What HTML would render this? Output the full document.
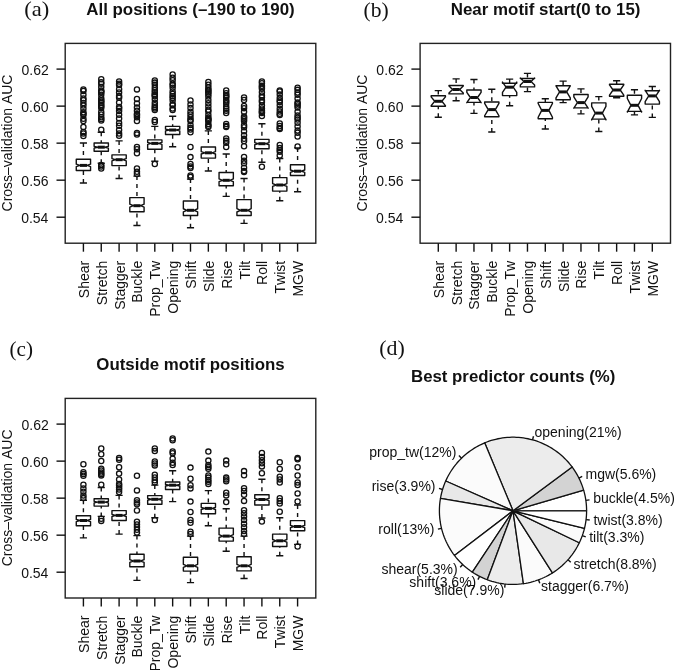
<!DOCTYPE html><html><head><meta charset="utf-8"><style>
*{margin:0;padding:0}
html,body{width:675px;height:670px;background:#fff;overflow:hidden}
svg{display:block;filter:grayscale(1)}
text{font-family:"Liberation Sans",sans-serif;fill:#111;font-kerning:none}
.tk{font-size:14px}
.yl{font-size:13.5px}
.pt{font-size:14px}
.ti{font-size:16.8px;font-weight:bold}
.pn{font-family:"Liberation Serif",serif;font-size:21.5px}
.ln{stroke:#111;stroke-width:1.4;fill:none}
.wh{stroke:#111;stroke-width:1.4;fill:none;stroke-dasharray:4 4}
.bx{stroke:#111;stroke-width:1.4;fill:#fff;stroke-linejoin:round}
.md{stroke:#111;stroke-width:3;fill:none}
.fr{stroke:#222;stroke-width:1.4;fill:none}
.pl{stroke:#111;stroke-width:1.3;stroke-linejoin:round}
circle{fill:none;stroke:#111;stroke-width:1.3}
</style></head><body><svg width="675" height="670" viewBox="0 0 675 670">
<rect width="675" height="670" fill="#fff"/>
<rect x="65.2" y="43.4" width="250.6" height="199.8" class="fr"/>
<path d="M56.5 217.2H65.2" class="ln"/>
<text x="21.16" y="222.8" class="tk">0.54</text>
<path d="M56.5 180.17H65.2" class="ln"/>
<text x="21.37" y="185.77" class="tk">0.56</text>
<path d="M56.5 143.15H65.2" class="ln"/>
<text x="21.36" y="148.75" class="tk">0.58</text>
<path d="M56.5 106.13H65.2" class="ln"/>
<text x="21.3" y="111.73" class="tk">0.60</text>
<path d="M56.5 69.1H65.2" class="ln"/>
<text x="21.46" y="74.7" class="tk">0.62</text>
<path d="M83.41 243.2V251.7" class="ln"/>
<text transform="translate(88.91,298.16) rotate(-90)" class="tk">Shear</text>
<path d="M101.25 243.2V251.7" class="ln"/>
<text transform="translate(106.75,305.15) rotate(-90)" class="tk">Stretch</text>
<path d="M119.1 243.2V251.7" class="ln"/>
<text transform="translate(124.6,309.83) rotate(-90)" class="tk">Stagger</text>
<path d="M136.95 243.2V251.7" class="ln"/>
<text transform="translate(142.45,302.82) rotate(-90)" class="tk">Buckle</text>
<path d="M154.8 243.2V251.7" class="ln"/>
<text transform="translate(160.3,316.82) rotate(-90)" class="tk">Prop_Tw</text>
<path d="M172.65 243.2V251.7" class="ln"/>
<text transform="translate(178.15,313.73) rotate(-90)" class="tk">Opening</text>
<path d="M190.5 243.2V251.7" class="ln"/>
<text transform="translate(196,288.81) rotate(-90)" class="tk">Shift</text>
<path d="M208.35 243.2V251.7" class="ln"/>
<text transform="translate(213.85,291.93) rotate(-90)" class="tk">Slide</text>
<path d="M226.2 243.2V251.7" class="ln"/>
<text transform="translate(231.7,288.81) rotate(-90)" class="tk">Rise</text>
<path d="M244.05 243.2V251.7" class="ln"/>
<text transform="translate(249.55,279.46) rotate(-90)" class="tk">Tilt</text>
<path d="M261.9 243.2V251.7" class="ln"/>
<text transform="translate(267.4,284.92) rotate(-90)" class="tk">Roll</text>
<path d="M279.75 243.2V251.7" class="ln"/>
<text transform="translate(285.25,293.46) rotate(-90)" class="tk">Twist</text>
<path d="M297.59 243.2V251.7" class="ln"/>
<text transform="translate(303.09,296.57) rotate(-90)" class="tk">MGW</text>
<text transform="translate(12,211.47) rotate(-90)" class="tk">Cross–validation AUC</text>
<path d="M83.41 183V170.5M83.41 143V159.2" class="wh"/>
<path d="M79.84 183H86.98M79.84 143H86.98" class="ln"/>
<polygon points="76.27,170.5 90.55,170.5 90.55,166.61 86.98,165.4 90.55,164.19 90.55,159.2 76.27,159.2 76.27,164.19 79.84,165.4 76.27,166.61" class="bx"/>
<path d="M79.84 165.4H86.98" class="md"/>
<circle cx="83.41" cy="89.5" r="2.6"/>
<circle cx="83.41" cy="91.02" r="2.6"/>
<circle cx="83.41" cy="94.84" r="2.6"/>
<circle cx="83.41" cy="98.4" r="2.6"/>
<circle cx="83.41" cy="100.3" r="2.6"/>
<circle cx="83.41" cy="102.99" r="2.6"/>
<circle cx="83.41" cy="105.52" r="2.6"/>
<circle cx="83.41" cy="108.71" r="2.6"/>
<circle cx="83.41" cy="112.35" r="2.6"/>
<circle cx="83.41" cy="113.73" r="2.6"/>
<circle cx="83.41" cy="114.91" r="2.6"/>
<circle cx="83.41" cy="118.69" r="2.6"/>
<circle cx="83.41" cy="121" r="2.6"/>
<circle cx="83.41" cy="127" r="2.6"/>
<circle cx="83.41" cy="131.93" r="2.6"/>
<circle cx="83.41" cy="133.44" r="2.6"/>
<circle cx="83.41" cy="136" r="2.6"/>
<path d="M101.25 163.3V151.3M101.25 132.3V143" class="wh"/>
<path d="M97.69 163.3H104.82M97.69 132.3H104.82" class="ln"/>
<polygon points="94.12,151.3 108.39,151.3 108.39,148.09 104.82,147.2 108.39,146.31 108.39,143 94.12,143 94.12,146.31 97.69,147.2 94.12,148.09" class="bx"/>
<path d="M97.69 147.2H104.82" class="md"/>
<circle cx="101.25" cy="79.3" r="2.6"/>
<circle cx="101.25" cy="82.15" r="2.6"/>
<circle cx="101.25" cy="83.67" r="2.6"/>
<circle cx="101.25" cy="87.12" r="2.6"/>
<circle cx="101.25" cy="90.45" r="2.6"/>
<circle cx="101.25" cy="91.43" r="2.6"/>
<circle cx="101.25" cy="92.4" r="2.6"/>
<circle cx="101.25" cy="94.77" r="2.6"/>
<circle cx="101.25" cy="98.2" r="2.6"/>
<circle cx="101.25" cy="100.13" r="2.6"/>
<circle cx="101.25" cy="101.61" r="2.6"/>
<circle cx="101.25" cy="103" r="2.6"/>
<circle cx="101.25" cy="105" r="2.6"/>
<circle cx="101.25" cy="106.3" r="2.6"/>
<circle cx="101.25" cy="108" r="2.6"/>
<circle cx="101.25" cy="112" r="2.6"/>
<circle cx="101.25" cy="114.5" r="2.6"/>
<circle cx="101.25" cy="117.19" r="2.6"/>
<circle cx="101.25" cy="119.02" r="2.6"/>
<circle cx="101.25" cy="120.5" r="2.6"/>
<circle cx="101.25" cy="129.8" r="2.6"/>
<circle cx="101.25" cy="165" r="2.6"/>
<circle cx="101.25" cy="166.49" r="2.6"/>
<circle cx="101.25" cy="168.5" r="2.6"/>
<path d="M119.1 178.5V165.6M119.1 140.9V154.9" class="wh"/>
<path d="M115.53 178.5H122.67M115.53 140.9H122.67" class="ln"/>
<polygon points="111.96,165.6 126.24,165.6 126.24,160.84 122.67,159.7 126.24,158.56 126.24,154.9 111.96,154.9 111.96,158.56 115.53,159.7 111.96,160.84" class="bx"/>
<path d="M115.53 159.7H122.67" class="md"/>
<circle cx="119.1" cy="81.5" r="2.6"/>
<circle cx="119.1" cy="83.74" r="2.6"/>
<circle cx="119.1" cy="85.02" r="2.6"/>
<circle cx="119.1" cy="89.24" r="2.6"/>
<circle cx="119.1" cy="92.44" r="2.6"/>
<circle cx="119.1" cy="95.95" r="2.6"/>
<circle cx="119.1" cy="97.82" r="2.6"/>
<circle cx="119.1" cy="102.59" r="2.6"/>
<circle cx="119.1" cy="106.89" r="2.6"/>
<circle cx="119.1" cy="108.52" r="2.6"/>
<circle cx="119.1" cy="110.92" r="2.6"/>
<circle cx="119.1" cy="114.72" r="2.6"/>
<circle cx="119.1" cy="118.48" r="2.6"/>
<circle cx="119.1" cy="123.05" r="2.6"/>
<circle cx="119.1" cy="125.77" r="2.6"/>
<circle cx="119.1" cy="129.96" r="2.6"/>
<circle cx="119.1" cy="133.57" r="2.6"/>
<circle cx="119.1" cy="135.86" r="2.6"/>
<path d="M136.95 225.5V211.7M136.95 176.1V197.6" class="wh"/>
<path d="M133.38 225.5H140.52M133.38 176.1H140.52" class="ln"/>
<polygon points="129.81,211.7 144.09,211.7 144.09,207.21 140.52,205.7 144.09,204.19 144.09,197.6 129.81,197.6 129.81,204.19 133.38,205.7 129.81,207.21" class="bx"/>
<path d="M133.38 205.7H140.52" class="md"/>
<circle cx="136.95" cy="89.4" r="2.6"/>
<circle cx="136.95" cy="99" r="2.6"/>
<circle cx="136.95" cy="103.38" r="2.6"/>
<circle cx="136.95" cy="107.62" r="2.6"/>
<circle cx="136.95" cy="110.64" r="2.6"/>
<circle cx="136.95" cy="113.96" r="2.6"/>
<circle cx="136.95" cy="115.29" r="2.6"/>
<circle cx="136.95" cy="117.36" r="2.6"/>
<circle cx="136.95" cy="121" r="2.6"/>
<circle cx="136.95" cy="133" r="2.6"/>
<circle cx="136.95" cy="134.5" r="2.6"/>
<circle cx="136.95" cy="147" r="2.6"/>
<circle cx="136.95" cy="149.28" r="2.6"/>
<circle cx="136.95" cy="153.25" r="2.6"/>
<circle cx="136.95" cy="168.5" r="2.6"/>
<circle cx="136.95" cy="171.77" r="2.6"/>
<circle cx="136.95" cy="174" r="2.6"/>
<path d="M154.8 161.3V149.3M154.8 126.4V139.9" class="wh"/>
<path d="M151.23 161.3H158.37M151.23 126.4H158.37" class="ln"/>
<polygon points="147.66,149.3 161.94,149.3 161.94,144.41 158.37,143.4 161.94,142.39 161.94,139.9 147.66,139.9 147.66,142.39 151.23,143.4 147.66,144.41" class="bx"/>
<path d="M151.23 143.4H158.37" class="md"/>
<circle cx="154.8" cy="80.5" r="2.6"/>
<circle cx="154.8" cy="82.59" r="2.6"/>
<circle cx="154.8" cy="84.86" r="2.6"/>
<circle cx="154.8" cy="87.86" r="2.6"/>
<circle cx="154.8" cy="90.17" r="2.6"/>
<circle cx="154.8" cy="92.13" r="2.6"/>
<circle cx="154.8" cy="94.35" r="2.6"/>
<circle cx="154.8" cy="95.33" r="2.6"/>
<circle cx="154.8" cy="96.35" r="2.6"/>
<circle cx="154.8" cy="99.15" r="2.6"/>
<circle cx="154.8" cy="102.7" r="2.6"/>
<circle cx="154.8" cy="105.2" r="2.6"/>
<circle cx="154.8" cy="107.17" r="2.6"/>
<circle cx="154.8" cy="108.53" r="2.6"/>
<circle cx="154.8" cy="110" r="2.6"/>
<circle cx="154.8" cy="120" r="2.6"/>
<circle cx="154.8" cy="122" r="2.6"/>
<circle cx="154.8" cy="164" r="2.6"/>
<path d="M172.65 146.7V134.5M172.65 116.2V126.4" class="wh"/>
<path d="M169.08 146.7H176.22M169.08 116.2H176.22" class="ln"/>
<polygon points="165.51,134.5 179.79,134.5 179.79,130.87 176.22,130 179.79,129.13 179.79,126.4 165.51,126.4 165.51,129.13 169.08,130 165.51,130.87" class="bx"/>
<path d="M169.08 130H176.22" class="md"/>
<circle cx="172.65" cy="74.5" r="2.6"/>
<circle cx="172.65" cy="77.68" r="2.6"/>
<circle cx="172.65" cy="80.19" r="2.6"/>
<circle cx="172.65" cy="83.63" r="2.6"/>
<circle cx="172.65" cy="85.26" r="2.6"/>
<circle cx="172.65" cy="87.7" r="2.6"/>
<circle cx="172.65" cy="91.4" r="2.6"/>
<circle cx="172.65" cy="94.03" r="2.6"/>
<circle cx="172.65" cy="96.31" r="2.6"/>
<circle cx="172.65" cy="98.04" r="2.6"/>
<circle cx="172.65" cy="100.58" r="2.6"/>
<circle cx="172.65" cy="104.3" r="2.6"/>
<circle cx="172.65" cy="105.28" r="2.6"/>
<circle cx="172.65" cy="108.49" r="2.6"/>
<circle cx="172.65" cy="110" r="2.6"/>
<path d="M190.5 227.7V215.5M190.5 179.1V201" class="wh"/>
<path d="M186.93 227.7H194.07M186.93 179.1H194.07" class="ln"/>
<polygon points="183.36,215.5 197.64,215.5 197.64,211.85 194.07,210.3 197.64,208.75 197.64,201 183.36,201 183.36,208.75 186.93,210.3 183.36,211.85" class="bx"/>
<path d="M186.93 210.3H194.07" class="md"/>
<circle cx="190.5" cy="100.5" r="2.6"/>
<circle cx="190.5" cy="104.45" r="2.6"/>
<circle cx="190.5" cy="107.93" r="2.6"/>
<circle cx="190.5" cy="111.63" r="2.6"/>
<circle cx="190.5" cy="114.39" r="2.6"/>
<circle cx="190.5" cy="117.29" r="2.6"/>
<circle cx="190.5" cy="119.75" r="2.6"/>
<circle cx="190.5" cy="121.01" r="2.6"/>
<circle cx="190.5" cy="124.91" r="2.6"/>
<circle cx="190.5" cy="127.84" r="2.6"/>
<circle cx="190.5" cy="129.57" r="2.6"/>
<circle cx="190.5" cy="132.28" r="2.6"/>
<circle cx="190.5" cy="147" r="2.6"/>
<circle cx="190.5" cy="157.1" r="2.6"/>
<circle cx="190.5" cy="164" r="2.6"/>
<circle cx="190.5" cy="166.48" r="2.6"/>
<circle cx="190.5" cy="168" r="2.6"/>
<circle cx="190.5" cy="175.5" r="2.6"/>
<circle cx="190.5" cy="177" r="2.6"/>
<path d="M208.35 171V158.1M208.35 130.9V147" class="wh"/>
<path d="M204.78 171H211.92M204.78 130.9H211.92" class="ln"/>
<polygon points="201.21,158.1 215.49,158.1 215.49,153.99 211.92,152.8 215.49,151.61 215.49,147 201.21,147 201.21,151.61 204.78,152.8 201.21,153.99" class="bx"/>
<path d="M204.78 152.8H211.92" class="md"/>
<circle cx="208.35" cy="82" r="2.6"/>
<circle cx="208.35" cy="84.76" r="2.6"/>
<circle cx="208.35" cy="87.48" r="2.6"/>
<circle cx="208.35" cy="89.76" r="2.6"/>
<circle cx="208.35" cy="90.8" r="2.6"/>
<circle cx="208.35" cy="92.42" r="2.6"/>
<circle cx="208.35" cy="93.89" r="2.6"/>
<circle cx="208.35" cy="96.53" r="2.6"/>
<circle cx="208.35" cy="99.97" r="2.6"/>
<circle cx="208.35" cy="103.23" r="2.6"/>
<circle cx="208.35" cy="106.49" r="2.6"/>
<circle cx="208.35" cy="109.8" r="2.6"/>
<circle cx="208.35" cy="111.5" r="2.6"/>
<circle cx="208.35" cy="114.88" r="2.6"/>
<circle cx="208.35" cy="117.78" r="2.6"/>
<circle cx="208.35" cy="118.98" r="2.6"/>
<circle cx="208.35" cy="119.99" r="2.6"/>
<circle cx="208.35" cy="120.99" r="2.6"/>
<circle cx="208.35" cy="124.12" r="2.6"/>
<circle cx="208.35" cy="125.8" r="2.6"/>
<circle cx="208.35" cy="127" r="2.6"/>
<path d="M226.2 196.4V185.7M226.2 154V172.5" class="wh"/>
<path d="M222.63 196.4H229.77M222.63 154H229.77" class="ln"/>
<polygon points="219.06,185.7 233.34,185.7 233.34,181.71 229.77,180.3 233.34,178.89 233.34,172.5 219.06,172.5 219.06,178.89 222.63,180.3 219.06,181.71" class="bx"/>
<path d="M222.63 180.3H229.77" class="md"/>
<circle cx="226.2" cy="90.5" r="2.6"/>
<circle cx="226.2" cy="93.26" r="2.6"/>
<circle cx="226.2" cy="95.21" r="2.6"/>
<circle cx="226.2" cy="96.37" r="2.6"/>
<circle cx="226.2" cy="97.79" r="2.6"/>
<circle cx="226.2" cy="100.27" r="2.6"/>
<circle cx="226.2" cy="101.71" r="2.6"/>
<circle cx="226.2" cy="103.46" r="2.6"/>
<circle cx="226.2" cy="106.47" r="2.6"/>
<circle cx="226.2" cy="108.74" r="2.6"/>
<circle cx="226.2" cy="110.63" r="2.6"/>
<circle cx="226.2" cy="112.95" r="2.6"/>
<circle cx="226.2" cy="124" r="2.6"/>
<circle cx="226.2" cy="125.94" r="2.6"/>
<circle cx="226.2" cy="127" r="2.6"/>
<circle cx="226.2" cy="138.5" r="2.6"/>
<circle cx="226.2" cy="140.85" r="2.6"/>
<circle cx="226.2" cy="142.84" r="2.6"/>
<circle cx="226.2" cy="147" r="2.6"/>
<path d="M244.05 223.4V215.5M244.05 178.5V199.6" class="wh"/>
<path d="M240.48 223.4H247.62M240.48 178.5H247.62" class="ln"/>
<polygon points="236.91,215.5 251.19,215.5 251.19,212 247.62,210.3 251.19,208.6 251.19,199.6 236.91,199.6 236.91,208.6 240.48,210.3 236.91,212" class="bx"/>
<path d="M240.48 210.3H247.62" class="md"/>
<circle cx="244.05" cy="97.5" r="2.6"/>
<circle cx="244.05" cy="100" r="2.6"/>
<circle cx="244.05" cy="106" r="2.6"/>
<circle cx="244.05" cy="108.15" r="2.6"/>
<circle cx="244.05" cy="111.87" r="2.6"/>
<circle cx="244.05" cy="116.42" r="2.6"/>
<circle cx="244.05" cy="117.82" r="2.6"/>
<circle cx="244.05" cy="119.22" r="2.6"/>
<circle cx="244.05" cy="121.12" r="2.6"/>
<circle cx="244.05" cy="125.28" r="2.6"/>
<circle cx="244.05" cy="127.24" r="2.6"/>
<circle cx="244.05" cy="131.35" r="2.6"/>
<circle cx="244.05" cy="135.35" r="2.6"/>
<circle cx="244.05" cy="138.83" r="2.6"/>
<circle cx="244.05" cy="141.02" r="2.6"/>
<circle cx="244.05" cy="146.21" r="2.6"/>
<circle cx="244.05" cy="157" r="2.6"/>
<circle cx="244.05" cy="160.82" r="2.6"/>
<circle cx="244.05" cy="163.33" r="2.6"/>
<circle cx="244.05" cy="167.75" r="2.6"/>
<circle cx="244.05" cy="171.02" r="2.6"/>
<circle cx="244.05" cy="172" r="2.6"/>
<path d="M261.9 162.2V148.8M261.9 123.7V139.4" class="wh"/>
<path d="M258.33 162.2H265.47M258.33 123.7H265.47" class="ln"/>
<polygon points="254.76,148.8 269.04,148.8 269.04,144.71 265.47,143.7 269.04,142.69 269.04,139.4 254.76,139.4 254.76,142.69 258.33,143.7 254.76,144.71" class="bx"/>
<path d="M258.33 143.7H265.47" class="md"/>
<circle cx="261.9" cy="81.5" r="2.6"/>
<circle cx="261.9" cy="83.27" r="2.6"/>
<circle cx="261.9" cy="85.87" r="2.6"/>
<circle cx="261.9" cy="86.93" r="2.6"/>
<circle cx="261.9" cy="88.64" r="2.6"/>
<circle cx="261.9" cy="92.15" r="2.6"/>
<circle cx="261.9" cy="95.41" r="2.6"/>
<circle cx="261.9" cy="97.14" r="2.6"/>
<circle cx="261.9" cy="100.36" r="2.6"/>
<circle cx="261.9" cy="102.1" r="2.6"/>
<circle cx="261.9" cy="105.53" r="2.6"/>
<circle cx="261.9" cy="108.44" r="2.6"/>
<circle cx="261.9" cy="110.46" r="2.6"/>
<circle cx="261.9" cy="112.05" r="2.6"/>
<circle cx="261.9" cy="112.97" r="2.6"/>
<circle cx="261.9" cy="116" r="2.6"/>
<circle cx="261.9" cy="166.7" r="2.6"/>
<path d="M279.75 200.8V191.1M279.75 158.5V177.6" class="wh"/>
<path d="M276.18 200.8H283.31M276.18 158.5H283.31" class="ln"/>
<polygon points="272.61,191.1 286.88,191.1 286.88,186.44 283.31,185 286.88,183.56 286.88,177.6 272.61,177.6 272.61,183.56 276.18,185 272.61,186.44" class="bx"/>
<path d="M276.18 185H283.31" class="md"/>
<circle cx="279.75" cy="90.5" r="2.6"/>
<circle cx="279.75" cy="91.5" r="2.6"/>
<circle cx="279.75" cy="94.61" r="2.6"/>
<circle cx="279.75" cy="98.11" r="2.6"/>
<circle cx="279.75" cy="100.55" r="2.6"/>
<circle cx="279.75" cy="101.92" r="2.6"/>
<circle cx="279.75" cy="105.16" r="2.6"/>
<circle cx="279.75" cy="108.69" r="2.6"/>
<circle cx="279.75" cy="111.49" r="2.6"/>
<circle cx="279.75" cy="113.76" r="2.6"/>
<circle cx="279.75" cy="115" r="2.6"/>
<circle cx="279.75" cy="123.5" r="2.6"/>
<circle cx="279.75" cy="125.95" r="2.6"/>
<circle cx="279.75" cy="127.89" r="2.6"/>
<circle cx="279.75" cy="129" r="2.6"/>
<circle cx="279.75" cy="145" r="2.6"/>
<circle cx="279.75" cy="148.03" r="2.6"/>
<circle cx="279.75" cy="150.12" r="2.6"/>
<circle cx="279.75" cy="151.86" r="2.6"/>
<circle cx="279.75" cy="155.5" r="2.6"/>
<path d="M297.59 191.8V175.5M297.59 147.9V164.7" class="wh"/>
<path d="M294.02 191.8H301.16M294.02 147.9H301.16" class="ln"/>
<polygon points="290.45,175.5 304.73,175.5 304.73,172.36 301.16,171.2 304.73,170.04 304.73,164.7 290.45,164.7 290.45,170.04 294.02,171.2 290.45,172.36" class="bx"/>
<path d="M294.02 171.2H301.16" class="md"/>
<circle cx="297.59" cy="87.8" r="2.6"/>
<circle cx="297.59" cy="89.84" r="2.6"/>
<circle cx="297.59" cy="92.54" r="2.6"/>
<circle cx="297.59" cy="94.67" r="2.6"/>
<circle cx="297.59" cy="98.58" r="2.6"/>
<circle cx="297.59" cy="102.57" r="2.6"/>
<circle cx="297.59" cy="103.71" r="2.6"/>
<circle cx="297.59" cy="105.44" r="2.6"/>
<circle cx="297.59" cy="107.58" r="2.6"/>
<circle cx="297.59" cy="111.86" r="2.6"/>
<circle cx="297.59" cy="115.48" r="2.6"/>
<circle cx="297.59" cy="117.66" r="2.6"/>
<circle cx="297.59" cy="119.43" r="2.6"/>
<circle cx="297.59" cy="122.69" r="2.6"/>
<circle cx="297.59" cy="126.49" r="2.6"/>
<circle cx="297.59" cy="130.59" r="2.6"/>
<circle cx="297.59" cy="132.78" r="2.6"/>
<circle cx="297.59" cy="136.5" r="2.6"/>
<circle cx="297.59" cy="146.5" r="2.6"/>
<rect x="420.1" y="43.4" width="250.4" height="199.8" class="fr"/>
<path d="M411.4 217.2H420.1" class="ln"/>
<text x="376.06" y="222.8" class="tk">0.54</text>
<path d="M411.4 180.17H420.1" class="ln"/>
<text x="376.27" y="185.77" class="tk">0.56</text>
<path d="M411.4 143.15H420.1" class="ln"/>
<text x="376.26" y="148.75" class="tk">0.58</text>
<path d="M411.4 106.13H420.1" class="ln"/>
<text x="376.2" y="111.73" class="tk">0.60</text>
<path d="M411.4 69.1H420.1" class="ln"/>
<text x="376.36" y="74.7" class="tk">0.62</text>
<path d="M438.29 243.2V251.7" class="ln"/>
<text transform="translate(443.79,298.16) rotate(-90)" class="tk">Shear</text>
<path d="M456.13 243.2V251.7" class="ln"/>
<text transform="translate(461.63,305.15) rotate(-90)" class="tk">Stretch</text>
<path d="M473.96 243.2V251.7" class="ln"/>
<text transform="translate(479.46,309.83) rotate(-90)" class="tk">Stagger</text>
<path d="M491.8 243.2V251.7" class="ln"/>
<text transform="translate(497.3,302.82) rotate(-90)" class="tk">Buckle</text>
<path d="M509.63 243.2V251.7" class="ln"/>
<text transform="translate(515.13,316.82) rotate(-90)" class="tk">Prop_Tw</text>
<path d="M527.47 243.2V251.7" class="ln"/>
<text transform="translate(532.97,313.73) rotate(-90)" class="tk">Opening</text>
<path d="M545.3 243.2V251.7" class="ln"/>
<text transform="translate(550.8,288.81) rotate(-90)" class="tk">Shift</text>
<path d="M563.13 243.2V251.7" class="ln"/>
<text transform="translate(568.63,291.93) rotate(-90)" class="tk">Slide</text>
<path d="M580.97 243.2V251.7" class="ln"/>
<text transform="translate(586.47,288.81) rotate(-90)" class="tk">Rise</text>
<path d="M598.8 243.2V251.7" class="ln"/>
<text transform="translate(604.3,279.46) rotate(-90)" class="tk">Tilt</text>
<path d="M616.64 243.2V251.7" class="ln"/>
<text transform="translate(622.14,284.92) rotate(-90)" class="tk">Roll</text>
<path d="M634.47 243.2V251.7" class="ln"/>
<text transform="translate(639.97,293.46) rotate(-90)" class="tk">Twist</text>
<path d="M652.31 243.2V251.7" class="ln"/>
<text transform="translate(657.81,296.57) rotate(-90)" class="tk">MGW</text>
<text transform="translate(366.9,211.47) rotate(-90)" class="tk">Cross–validation AUC</text>
<path d="M438.29 117.3V106.2M438.29 90.6V95.8" class="wh"/>
<path d="M434.72 117.3H441.86M434.72 90.6H441.86" class="ln"/>
<polygon points="431.16,106.2 445.43,106.2 445.43,105.67 441.86,101.3 445.43,96.93 445.43,95.8 431.16,95.8 431.16,96.93 434.72,101.3 431.16,105.67" class="bx"/>
<path d="M434.72 101.3H441.86" class="md"/>
<path d="M456.13 100.8V93.9M456.13 78.9V85.5" class="wh"/>
<path d="M452.56 100.8H459.69M452.56 78.9H459.69" class="ln"/>
<polygon points="448.99,93.9 463.26,93.9 463.26,93.03 459.69,89.5 463.26,85.97 463.26,85.5 448.99,85.5 448.99,85.97 452.56,89.5 448.99,93.03" class="bx"/>
<path d="M452.56 89.5H459.69" class="md"/>
<path d="M473.96 113.4V102.4M473.96 79.5V90" class="wh"/>
<path d="M470.39 113.4H477.53M470.39 79.5H477.53" class="ln"/>
<polygon points="466.83,102.4 481.09,102.4 481.09,102.71 477.53,97.5 481.09,92.29 481.09,90 466.83,90 466.83,92.29 470.39,97.5 466.83,102.71" class="bx"/>
<path d="M470.39 97.5H477.53" class="md"/>
<path d="M491.8 132V116.7M491.8 89.3V102" class="wh"/>
<path d="M488.23 132H495.36M488.23 89.3H495.36" class="ln"/>
<polygon points="484.66,116.7 498.93,116.7 498.93,115.77 495.36,109.6 498.93,103.43 498.93,102 484.66,102 484.66,103.43 488.23,109.6 484.66,115.77" class="bx"/>
<path d="M488.23 109.6H495.36" class="md"/>
<path d="M509.63 105.7V95.6M509.63 79.1V83.3" class="wh"/>
<path d="M506.06 105.7H513.2M506.06 79.1H513.2" class="ln"/>
<polygon points="502.5,95.6 516.76,95.6 516.76,92.37 513.2,87.2 516.76,82.03 516.76,83.3 502.5,83.3 502.5,82.03 506.06,87.2 502.5,92.37" class="bx"/>
<path d="M506.06 87.2H513.2" class="md"/>
<path d="M527.47 91.6V86.9M527.47 73.4V78.5" class="wh"/>
<path d="M523.9 91.6H531.03M523.9 73.4H531.03" class="ln"/>
<polygon points="520.33,86.9 534.6,86.9 534.6,85.03 531.03,81.5 534.6,77.97 534.6,78.5 520.33,78.5 520.33,77.97 523.9,81.5 520.33,85.03" class="bx"/>
<path d="M523.9 81.5H531.03" class="md"/>
<path d="M545.3 129V118.7M545.3 98.8V102.4" class="wh"/>
<path d="M541.73 129H548.87M541.73 98.8H548.87" class="ln"/>
<polygon points="538.17,118.7 552.43,118.7 552.43,117.25 548.87,110.4 552.43,103.55 552.43,102.4 538.17,102.4 538.17,103.55 541.73,110.4 538.17,117.25" class="bx"/>
<path d="M541.73 110.4H548.87" class="md"/>
<path d="M563.13 102.6V99.8M563.13 81.1V85.7" class="wh"/>
<path d="M559.57 102.6H566.7M559.57 81.1H566.7" class="ln"/>
<polygon points="556,99.8 570.27,99.8 570.27,97.82 566.7,91.9 570.27,85.98 570.27,85.7 556,85.7 556,85.98 559.57,91.9 556,97.82" class="bx"/>
<path d="M559.57 91.9H566.7" class="md"/>
<path d="M580.97 113.9V107.9M580.97 88.9V94.5" class="wh"/>
<path d="M577.4 113.9H584.54M577.4 88.9H584.54" class="ln"/>
<polygon points="573.84,107.9 588.1,107.9 588.1,108.23 584.54,102.6 588.1,96.97 588.1,94.5 573.84,94.5 573.84,96.97 577.4,102.6 573.84,108.23" class="bx"/>
<path d="M577.4 102.6H584.54" class="md"/>
<path d="M598.8 131.5V119.1M598.8 96.6V102.9" class="wh"/>
<path d="M595.24 131.5H602.37M595.24 96.6H602.37" class="ln"/>
<polygon points="591.67,119.1 605.94,119.1 605.94,119.9 602.37,113.1 605.94,106.3 605.94,102.9 591.67,102.9 591.67,106.3 595.24,113.1 591.67,119.9" class="bx"/>
<path d="M595.24 113.1H602.37" class="md"/>
<path d="M616.64 97.7V96.3M616.64 80.8V84.2" class="wh"/>
<path d="M613.07 97.7H620.21M613.07 80.8H620.21" class="ln"/>
<polygon points="609.51,96.3 623.77,96.3 623.77,95.08 620.21,90 623.77,84.92 623.77,84.2 609.51,84.2 609.51,84.92 613.07,90 609.51,95.08" class="bx"/>
<path d="M613.07 90H620.21" class="md"/>
<path d="M634.47 114.9V111.4M634.47 89.8V95.2" class="wh"/>
<path d="M630.91 114.9H638.04M630.91 89.8H638.04" class="ln"/>
<polygon points="627.34,111.4 641.61,111.4 641.61,112.1 638.04,105.3 641.61,98.5 641.61,95.2 627.34,95.2 627.34,98.5 630.91,105.3 627.34,112.1" class="bx"/>
<path d="M630.91 105.3H638.04" class="md"/>
<path d="M652.31 117.4V104.1M652.31 86.5V90.7" class="wh"/>
<path d="M648.74 117.4H655.88M648.74 86.5H655.88" class="ln"/>
<polygon points="645.17,104.1 659.44,104.1 659.44,101.53 655.88,95.9 659.44,90.27 659.44,90.7 645.17,90.7 645.17,90.27 648.74,95.9 645.17,101.53" class="bx"/>
<path d="M648.74 95.9H655.88" class="md"/>
<rect x="65.2" y="398.4" width="250.6" height="199.6" class="fr"/>
<path d="M56.5 572.2H65.2" class="ln"/>
<text x="21.16" y="577.8" class="tk">0.54</text>
<path d="M56.5 535.17H65.2" class="ln"/>
<text x="21.37" y="540.77" class="tk">0.56</text>
<path d="M56.5 498.15H65.2" class="ln"/>
<text x="21.36" y="503.75" class="tk">0.58</text>
<path d="M56.5 461.13H65.2" class="ln"/>
<text x="21.3" y="466.73" class="tk">0.60</text>
<path d="M56.5 424.1H65.2" class="ln"/>
<text x="21.46" y="429.7" class="tk">0.62</text>
<path d="M83.41 598V606.5" class="ln"/>
<text transform="translate(88.91,652.96) rotate(-90)" class="tk">Shear</text>
<path d="M101.25 598V606.5" class="ln"/>
<text transform="translate(106.75,659.95) rotate(-90)" class="tk">Stretch</text>
<path d="M119.1 598V606.5" class="ln"/>
<text transform="translate(124.6,664.63) rotate(-90)" class="tk">Stagger</text>
<path d="M136.95 598V606.5" class="ln"/>
<text transform="translate(142.45,657.62) rotate(-90)" class="tk">Buckle</text>
<path d="M154.8 598V606.5" class="ln"/>
<text transform="translate(160.3,671.62) rotate(-90)" class="tk">Prop_Tw</text>
<path d="M172.65 598V606.5" class="ln"/>
<text transform="translate(178.15,668.53) rotate(-90)" class="tk">Opening</text>
<path d="M190.5 598V606.5" class="ln"/>
<text transform="translate(196,643.61) rotate(-90)" class="tk">Shift</text>
<path d="M208.35 598V606.5" class="ln"/>
<text transform="translate(213.85,646.73) rotate(-90)" class="tk">Slide</text>
<path d="M226.2 598V606.5" class="ln"/>
<text transform="translate(231.7,643.61) rotate(-90)" class="tk">Rise</text>
<path d="M244.05 598V606.5" class="ln"/>
<text transform="translate(249.55,634.26) rotate(-90)" class="tk">Tilt</text>
<path d="M261.9 598V606.5" class="ln"/>
<text transform="translate(267.4,639.72) rotate(-90)" class="tk">Roll</text>
<path d="M279.75 598V606.5" class="ln"/>
<text transform="translate(285.25,648.26) rotate(-90)" class="tk">Twist</text>
<path d="M297.59 598V606.5" class="ln"/>
<text transform="translate(303.09,651.37) rotate(-90)" class="tk">MGW</text>
<text transform="translate(12,566.37) rotate(-90)" class="tk">Cross–validation AUC</text>
<path d="M83.41 537.9V525.8M83.41 500.3V515.8" class="wh"/>
<path d="M79.84 537.9H86.98M79.84 500.3H86.98" class="ln"/>
<polygon points="76.27,525.8 90.55,525.8 90.55,521.57 86.98,520.5 90.55,519.43 90.55,515.8 76.27,515.8 76.27,519.43 79.84,520.5 76.27,521.57" class="bx"/>
<path d="M79.84 520.5H86.98" class="md"/>
<circle cx="83.41" cy="464.2" r="2.6"/>
<circle cx="83.41" cy="472.3" r="2.6"/>
<circle cx="83.41" cy="474" r="2.6"/>
<circle cx="83.41" cy="475.8" r="2.6"/>
<circle cx="83.41" cy="484.8" r="2.6"/>
<circle cx="83.41" cy="488.4" r="2.6"/>
<circle cx="83.41" cy="491.8" r="2.6"/>
<circle cx="83.41" cy="495.6" r="2.6"/>
<circle cx="83.41" cy="498.1" r="2.6"/>
<path d="M101.25 516.4V506.1M101.25 487.5V498.7" class="wh"/>
<path d="M97.69 516.4H104.82M97.69 487.5H104.82" class="ln"/>
<polygon points="94.12,506.1 108.39,506.1 108.39,502.89 104.82,502.1 108.39,501.31 108.39,498.7 94.12,498.7 94.12,501.31 97.69,502.1 94.12,502.89" class="bx"/>
<path d="M97.69 502.1H104.82" class="md"/>
<circle cx="101.25" cy="448.5" r="2.6"/>
<circle cx="101.25" cy="454.3" r="2.6"/>
<circle cx="101.25" cy="461" r="2.6"/>
<circle cx="101.25" cy="468.7" r="2.6"/>
<circle cx="101.25" cy="470.5" r="2.6"/>
<circle cx="101.25" cy="472.5" r="2.6"/>
<circle cx="101.25" cy="474" r="2.6"/>
<circle cx="101.25" cy="475.4" r="2.6"/>
<circle cx="101.25" cy="484.8" r="2.6"/>
<circle cx="101.25" cy="518.7" r="2.6"/>
<circle cx="101.25" cy="520.9" r="2.6"/>
<path d="M119.1 534.1V520.5M119.1 495.4V510.6" class="wh"/>
<path d="M115.53 534.1H122.67M115.53 495.4H122.67" class="ln"/>
<polygon points="111.96,520.5 126.24,520.5 126.24,516.46 122.67,515.4 126.24,514.34 126.24,510.6 111.96,510.6 111.96,514.34 115.53,515.4 111.96,516.46" class="bx"/>
<path d="M115.53 515.4H122.67" class="md"/>
<circle cx="119.1" cy="457.9" r="2.6"/>
<circle cx="119.1" cy="459.7" r="2.6"/>
<circle cx="119.1" cy="467.3" r="2.6"/>
<circle cx="119.1" cy="473.6" r="2.6"/>
<circle cx="119.1" cy="479.4" r="2.6"/>
<circle cx="119.1" cy="483.9" r="2.6"/>
<circle cx="119.1" cy="485.5" r="2.6"/>
<circle cx="119.1" cy="487.5" r="2.6"/>
<circle cx="119.1" cy="489.5" r="2.6"/>
<circle cx="119.1" cy="492" r="2.6"/>
<path d="M136.95 580.4V566.7M136.95 535.6V554.3" class="wh"/>
<path d="M133.38 580.4H140.52M133.38 535.6H140.52" class="ln"/>
<polygon points="129.81,566.7 144.09,566.7 144.09,562.33 140.52,561 144.09,559.67 144.09,554.3 129.81,554.3 129.81,559.67 133.38,561 129.81,562.33" class="bx"/>
<path d="M133.38 561H140.52" class="md"/>
<circle cx="136.95" cy="475.7" r="2.6"/>
<circle cx="136.95" cy="490.4" r="2.6"/>
<circle cx="136.95" cy="500.2" r="2.6"/>
<circle cx="136.95" cy="502.5" r="2.6"/>
<circle cx="136.95" cy="504.3" r="2.6"/>
<circle cx="136.95" cy="510.5" r="2.6"/>
<circle cx="136.95" cy="521.7" r="2.6"/>
<circle cx="136.95" cy="524.4" r="2.6"/>
<circle cx="136.95" cy="527.1" r="2.6"/>
<circle cx="136.95" cy="529.8" r="2.6"/>
<circle cx="136.95" cy="532.5" r="2.6"/>
<path d="M154.8 517.7V504.3M154.8 485.1V495.6" class="wh"/>
<path d="M151.23 517.7H158.37M151.23 485.1H158.37" class="ln"/>
<polygon points="147.66,504.3 161.94,504.3 161.94,500.23 158.37,499.3 161.94,498.37 161.94,495.6 147.66,495.6 147.66,498.37 151.23,499.3 147.66,500.23" class="bx"/>
<path d="M151.23 499.3H158.37" class="md"/>
<circle cx="154.8" cy="448.4" r="2.6"/>
<circle cx="154.8" cy="451.1" r="2.6"/>
<circle cx="154.8" cy="461.4" r="2.6"/>
<circle cx="154.8" cy="463.5" r="2.6"/>
<circle cx="154.8" cy="465.4" r="2.6"/>
<circle cx="154.8" cy="474.8" r="2.6"/>
<circle cx="154.8" cy="477.5" r="2.6"/>
<circle cx="154.8" cy="480.2" r="2.6"/>
<circle cx="154.8" cy="482.4" r="2.6"/>
<circle cx="154.8" cy="520" r="2.6"/>
<path d="M172.65 501.6V489.5M172.65 470.8V482" class="wh"/>
<path d="M169.08 501.6H176.22M169.08 470.8H176.22" class="ln"/>
<polygon points="165.51,489.5 179.79,489.5 179.79,486 176.22,485.2 179.79,484.4 179.79,482 165.51,482 165.51,484.4 169.08,485.2 165.51,486" class="bx"/>
<path d="M169.08 485.2H176.22" class="md"/>
<circle cx="172.65" cy="438.5" r="2.6"/>
<circle cx="172.65" cy="440.3" r="2.6"/>
<circle cx="172.65" cy="451.5" r="2.6"/>
<circle cx="172.65" cy="453.3" r="2.6"/>
<circle cx="172.65" cy="458.7" r="2.6"/>
<circle cx="172.65" cy="462.7" r="2.6"/>
<circle cx="172.65" cy="465" r="2.6"/>
<path d="M190.5 582.6V571.1M190.5 536.1V557.2" class="wh"/>
<path d="M186.93 582.6H194.07M186.93 536.1H194.07" class="ln"/>
<polygon points="183.36,571.1 197.64,571.1 197.64,567.29 194.07,565.8 197.64,564.31 197.64,557.2 183.36,557.2 183.36,564.31 186.93,565.8 183.36,567.29" class="bx"/>
<path d="M186.93 565.8H194.07" class="md"/>
<circle cx="190.5" cy="467.6" r="2.6"/>
<circle cx="190.5" cy="478.7" r="2.6"/>
<circle cx="190.5" cy="485.3" r="2.6"/>
<circle cx="190.5" cy="488.4" r="2.6"/>
<circle cx="190.5" cy="501.6" r="2.6"/>
<circle cx="190.5" cy="512" r="2.6"/>
<circle cx="190.5" cy="520" r="2.6"/>
<circle cx="190.5" cy="522.7" r="2.6"/>
<circle cx="190.5" cy="531.7" r="2.6"/>
<circle cx="190.5" cy="533.9" r="2.6"/>
<path d="M208.35 525.8V513.7M208.35 490.6V503.4" class="wh"/>
<path d="M204.78 525.8H211.92M204.78 490.6H211.92" class="ln"/>
<polygon points="201.21,513.7 215.49,513.7 215.49,509.5 211.92,508.4 215.49,507.3 215.49,503.4 201.21,503.4 201.21,507.3 204.78,508.4 201.21,509.5" class="bx"/>
<path d="M204.78 508.4H211.92" class="md"/>
<circle cx="208.35" cy="451.6" r="2.6"/>
<circle cx="208.35" cy="460.6" r="2.6"/>
<circle cx="208.35" cy="465.1" r="2.6"/>
<circle cx="208.35" cy="466.9" r="2.6"/>
<circle cx="208.35" cy="468.7" r="2.6"/>
<circle cx="208.35" cy="475.4" r="2.6"/>
<circle cx="208.35" cy="477.6" r="2.6"/>
<circle cx="208.35" cy="479.9" r="2.6"/>
<circle cx="208.35" cy="481.7" r="2.6"/>
<circle cx="208.35" cy="483.9" r="2.6"/>
<path d="M226.2 551.2V541.1M226.2 508.8V528.1" class="wh"/>
<path d="M222.63 551.2H229.77M222.63 508.8H229.77" class="ln"/>
<polygon points="219.06,541.1 233.34,541.1 233.34,537.49 229.77,536.1 233.34,534.71 233.34,528.1 219.06,528.1 219.06,534.71 222.63,536.1 219.06,537.49" class="bx"/>
<path d="M222.63 536.1H229.77" class="md"/>
<circle cx="226.2" cy="460.6" r="2.6"/>
<circle cx="226.2" cy="464.2" r="2.6"/>
<circle cx="226.2" cy="477.6" r="2.6"/>
<circle cx="226.2" cy="479.4" r="2.6"/>
<circle cx="226.2" cy="481.2" r="2.6"/>
<circle cx="226.2" cy="492.7" r="2.6"/>
<circle cx="226.2" cy="495.4" r="2.6"/>
<circle cx="226.2" cy="502.1" r="2.6"/>
<path d="M244.05 578.5V570.9M244.05 536.1V556.7" class="wh"/>
<path d="M240.48 578.5H247.62M240.48 536.1H247.62" class="ln"/>
<polygon points="236.91,570.9 251.19,570.9 251.19,567.32 247.62,565.8 251.19,564.28 251.19,556.7 236.91,556.7 236.91,564.28 240.48,565.8 236.91,567.32" class="bx"/>
<path d="M240.48 565.8H247.62" class="md"/>
<circle cx="244.05" cy="471.1" r="2.6"/>
<circle cx="244.05" cy="475.3" r="2.6"/>
<circle cx="244.05" cy="488.2" r="2.6"/>
<circle cx="244.05" cy="491" r="2.6"/>
<circle cx="244.05" cy="494.7" r="2.6"/>
<circle cx="244.05" cy="500.9" r="2.6"/>
<circle cx="244.05" cy="510.2" r="2.6"/>
<circle cx="244.05" cy="513.3" r="2.6"/>
<circle cx="244.05" cy="516.4" r="2.6"/>
<circle cx="244.05" cy="520.1" r="2.6"/>
<circle cx="244.05" cy="523.7" r="2.6"/>
<circle cx="244.05" cy="527.3" r="2.6"/>
<circle cx="244.05" cy="531" r="2.6"/>
<circle cx="244.05" cy="534.1" r="2.6"/>
<path d="M261.9 518V505M261.9 479.2V494.8" class="wh"/>
<path d="M258.33 518H265.47M258.33 479.2H265.47" class="ln"/>
<polygon points="254.76,505 269.04,505 269.04,500.59 265.47,499.5 269.04,498.41 269.04,494.8 254.76,494.8 254.76,498.41 258.33,499.5 254.76,500.59" class="bx"/>
<path d="M258.33 499.5H265.47" class="md"/>
<circle cx="261.9" cy="453" r="2.6"/>
<circle cx="261.9" cy="457.1" r="2.6"/>
<circle cx="261.9" cy="460.2" r="2.6"/>
<circle cx="261.9" cy="463.3" r="2.6"/>
<circle cx="261.9" cy="466.4" r="2.6"/>
<circle cx="261.9" cy="473.2" r="2.6"/>
<circle cx="261.9" cy="521.6" r="2.6"/>
<path d="M279.75 555.7V546.5M279.75 517.8V534.1" class="wh"/>
<path d="M276.18 555.7H283.31M276.18 517.8H283.31" class="ln"/>
<polygon points="272.61,546.5 286.88,546.5 286.88,542.13 283.31,540.8 286.88,539.47 286.88,534.1 272.61,534.1 272.61,539.47 276.18,540.8 272.61,542.13" class="bx"/>
<path d="M276.18 540.8H283.31" class="md"/>
<circle cx="279.75" cy="462.3" r="2.6"/>
<circle cx="279.75" cy="469" r="2.6"/>
<circle cx="279.75" cy="476.8" r="2.6"/>
<circle cx="279.75" cy="479.4" r="2.6"/>
<circle cx="279.75" cy="482.5" r="2.6"/>
<circle cx="279.75" cy="498.3" r="2.6"/>
<circle cx="279.75" cy="500.9" r="2.6"/>
<circle cx="279.75" cy="503.5" r="2.6"/>
<circle cx="279.75" cy="511.8" r="2.6"/>
<path d="M297.59 544.4V530.7M297.59 505V520.6" class="wh"/>
<path d="M294.02 544.4H301.16M294.02 505H301.16" class="ln"/>
<polygon points="290.45,530.7 304.73,530.7 304.73,527.58 301.16,526.5 304.73,525.42 304.73,520.6 290.45,520.6 290.45,525.42 294.02,526.5 290.45,527.58" class="bx"/>
<path d="M294.02 526.5H301.16" class="md"/>
<circle cx="297.59" cy="458.1" r="2.6"/>
<circle cx="297.59" cy="459.2" r="2.6"/>
<circle cx="297.59" cy="467.2" r="2.6"/>
<circle cx="297.59" cy="475.5" r="2.6"/>
<circle cx="297.59" cy="482.5" r="2.6"/>
<circle cx="297.59" cy="485.1" r="2.6"/>
<circle cx="297.59" cy="493.4" r="2.6"/>
<circle cx="297.59" cy="501.4" r="2.6"/>
<circle cx="297.59" cy="546.5" r="2.6"/>
<polygon points="513,510.8 586.6,510.8 586.56,508.47 586.45,506.15 586.27,503.83 586.01,501.52 585.68,499.22 585.28,496.93 584.81,494.65 584.26,492.39 583.64,490.15" fill="#ffffff" class="pl"/>
<path d="M585.86 500.37L589.5 499.85" class="ln"/>
<text x="593.14" y="503.32" class="pt" text-anchor="start">buckle(4.5%)</text>
<polygon points="513,510.8 583.64,490.15 582.94,487.88 582.17,485.64 581.32,483.43 580.41,481.25 579.42,479.09 578.37,476.97 577.24,474.89 576.06,472.84 574.8,470.83 573.48,468.86 572.1,466.94" fill="#d3d3d3" class="pl"/>
<path d="M578.9 478.03L582.2 476.39" class="ln"/>
<text x="585.49" y="478.75" class="pt" text-anchor="start">mgw(5.6%)</text>
<polygon points="513,510.8 572.1,466.94 570.69,465.09 569.21,463.29 567.69,461.54 566.1,459.84 564.46,458.18 562.78,456.58 561.04,455.04 559.25,453.55 557.42,452.12 555.54,450.74 553.62,449.43 551.66,448.17 549.67,446.98 547.63,445.86 545.56,444.79 543.46,443.8 541.33,442.87 539.17,442.01 536.98,441.22 534.77,440.49 532.54,439.84 530.28,439.26 528.01,438.75 525.73,438.31 523.43,437.94 521.12,437.65 518.81,437.43 516.49,437.28 514.16,437.21 511.84,437.21 509.51,437.28 507.19,437.43 504.88,437.65 502.57,437.94 500.27,438.31 497.99,438.75 495.72,439.26 493.46,439.84 491.23,440.49 489.02,441.22 486.83,442.01 484.67,442.87" fill="#ececec" class="pl"/>
<path d="M532.54 439.84L533.51 436.29" class="ln"/>
<text x="534.49" y="436.74" class="pt" text-anchor="start">opening(21%)</text>
<polygon points="513,510.8 484.67,442.87 482.54,443.8 480.44,444.79 478.37,445.86 476.33,446.98 474.34,448.17 472.38,449.43 470.46,450.74 468.58,452.12 466.75,453.55 464.96,455.04 463.22,456.58 461.54,458.18 459.9,459.84 458.31,461.54 456.79,463.29 455.31,465.09 453.9,466.94 452.54,468.83 451.24,470.76 450.01,472.73 448.84,474.74 447.73,476.79 446.69,478.87 445.71,480.98" fill="#fbfbfb" class="pl"/>
<path d="M461.54 458.18L458.96 455.55" class="ln"/>
<text x="456.39" y="456.92" class="pt" text-anchor="end">prop_tw(12%)</text>
<polygon points="513,510.8 445.71,480.98 444.7,483.37 443.78,485.79 442.94,488.24 442.19,490.72 441.53,493.23 440.95,495.75 440.47,498.3" fill="#e8e8e8" class="pl"/>
<path d="M442.56 489.48L439.03 488.41" class="ln"/>
<text x="435.51" y="491.34" class="pt" text-anchor="end">rise(3.9%)</text>
<polygon points="513,510.8 440.47,498.3 440.11,500.6 439.82,502.91 439.61,505.22 439.47,507.54 439.41,509.87 439.41,512.2 439.49,514.52 439.65,516.84 439.88,519.16 440.18,521.46 440.55,523.76 441,526.04 441.51,528.31 442.1,530.56 442.76,532.79 443.49,535 444.29,537.18 445.16,539.34 446.1,541.47 447.1,543.57 448.17,545.64 449.3,547.67 450.5,549.66 451.76,551.62 453.08,553.53 454.46,555.4" fill="#fbfbfb" class="pl"/>
<path d="M441.51 528.31L437.94 529.18" class="ln"/>
<text x="434.36" y="534.06" class="pt" text-anchor="end">roll(13%)</text>
<polygon points="513,510.8 454.46,555.4 455.98,557.34 457.57,559.22 459.23,561.05 460.94,562.83 462.71,564.54 464.54,566.2 466.42,567.79 468.36,569.32 470.34,570.78 472.38,572.17" fill="#ffffff" class="pl"/>
<path d="M462.71 564.54L460.2 567.23" class="ln"/>
<text x="457.68" y="573.92" class="pt" text-anchor="end">shear(5.3%)</text>
<polygon points="513,510.8 472.38,572.17 474.39,573.46 476.45,574.68 478.55,575.84 480.68,576.92 482.84,577.94 485.04,578.88 487.27,579.76" fill="#d3d3d3" class="pl"/>
<path d="M479.61 576.39L477.94 579.67" class="ln"/>
<text x="476.27" y="586.95" class="pt" text-anchor="end">shift(3.6%)</text>
<polygon points="513,510.8 487.27,579.76 489.58,580.57 491.91,581.31 494.27,581.98 496.65,582.56 499.05,583.07 501.46,583.49 503.89,583.83 506.33,584.1 508.77,584.28 511.22,584.38 513.67,584.4 516.12,584.33 518.56,584.19 521,583.96 523.43,583.66" fill="#ececec" class="pl"/>
<path d="M505.11 583.98L504.71 587.63" class="ln"/>
<text x="504.32" y="595.29" class="pt" text-anchor="end">slide(7.9%)</text>
<polygon points="513,510.8 523.43,583.66 525.8,583.28 528.15,582.82 530.49,582.29 532.81,581.68 535.11,581 537.38,580.24 539.63,579.41 541.85,578.51 544.04,577.53 546.2,576.49 548.32,575.37 550.41,574.18 552.45,572.93" fill="#fbfbfb" class="pl"/>
<path d="M538.51 579.84L539.79 583.29" class="ln"/>
<text x="541.06" y="590.74" class="pt" text-anchor="start">stagger(6.7%)</text>
<polygon points="513,510.8 552.45,572.93 554.46,571.61 556.43,570.22 558.35,568.77 560.22,567.25 562.05,565.68 563.81,564.04 565.53,562.35 567.19,560.61 568.79,558.81 570.33,556.96 571.81,555.06 573.22,553.11 574.58,551.12 575.86,549.08 577.08,547 578.23,544.89 579.31,542.73" fill="#e8e8e8" class="pl"/>
<path d="M568 559.71L570.75 562.16" class="ln"/>
<text x="573.49" y="568.6" class="pt" text-anchor="start">stretch(8.8%)</text>
<polygon points="513,510.8 579.31,542.73 580.38,540.41 581.37,538.05 582.28,535.66 583.1,533.23 583.84,530.78 584.49,528.31" fill="#fbfbfb" class="pl"/>
<path d="M582.28 535.66L585.74 536.9" class="ln"/>
<text x="589.2" y="542.14" class="pt" text-anchor="start">tilt(3.3%)</text>
<polygon points="513,510.8 584.49,528.31 585.05,525.85 585.52,523.37 585.91,520.87 586.21,518.36 586.43,515.85 586.56,513.33 586.6,510.8" fill="#ffffff" class="pl"/>
<path d="M586.07 519.62L589.72 520.06" class="ln"/>
<text x="593.38" y="524.5" class="pt" text-anchor="start">twist(3.8%)</text>
<text x="86.28" y="15.1" class="ti" textLength="208.46" lengthAdjust="spacingAndGlyphs">All positions (–190 to 190)</text>
<text x="450.77" y="15.1" class="ti" textLength="189.67" lengthAdjust="spacingAndGlyphs">Near motif start(0 to 15)</text>
<text x="96.31" y="369.9" class="ti" textLength="188.38" lengthAdjust="spacingAndGlyphs">Outside motif positions</text>
<text x="411.08" y="382" class="ti">Best predictor counts (%)</text>
<text x="24.21" y="15.6" class="pn" textLength="25.09" lengthAdjust="spacingAndGlyphs">(a)</text>
<text x="363.55" y="16.8" class="pn" textLength="25.2" lengthAdjust="spacingAndGlyphs">(b)</text>
<text x="9.47" y="355.6" class="pn" textLength="23.46" lengthAdjust="spacingAndGlyphs">(c)</text>
<text x="379.24" y="355.4" class="pn" textLength="25.52" lengthAdjust="spacingAndGlyphs">(d)</text>
</svg></body></html>
